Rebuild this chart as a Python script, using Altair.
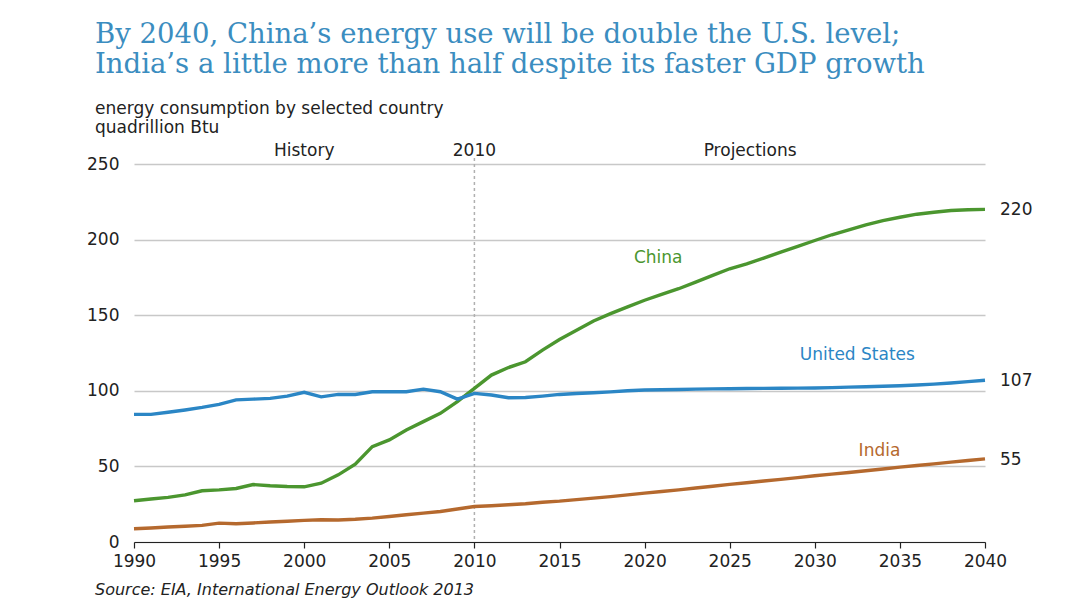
import altair as alt
import pandas as pd

years = list(range(1990, 2041))

china = [27.3, 28.4, 29.5, 31.2, 33.9, 34.5, 35.4, 38.0, 37.2, 36.7,
         36.5, 38.9, 44.4, 51.5, 63.1, 67.5, 74.1, 79.6, 85.1, 92.8,
         101.6, 110.4, 115.4, 119.2, 126.9, 133.9, 140.0, 146.2, 151.0, 155.5,
         159.9, 163.8, 167.5, 171.9, 176.3, 180.7, 184.0, 187.8, 191.7, 195.5,
         199.4, 203.2, 206.5, 209.8, 212.6, 214.8, 216.8, 218.1, 219.2, 219.7,
         220.0]

united_states = [84.4, 84.4, 85.8, 87.3, 89.0, 91.0, 94.0, 94.5, 95.0, 96.5,
                 99.0, 96.0, 97.6, 97.6, 99.4, 99.4, 99.4, 101.1, 99.4, 94.5,
                 98.3, 97.2, 95.4, 95.6, 96.5, 97.6, 98.2, 98.7, 99.3, 100.0,
                 100.5, 100.7, 100.9, 101.1, 101.3, 101.4, 101.5, 101.6, 101.7, 101.8,
                 101.9, 102.1, 102.4, 102.7, 103.0, 103.3, 103.8, 104.4, 105.2, 106.1,
                 107.0]

india = [8.8, 9.3, 9.9, 10.4, 11.0, 12.5, 12.1, 12.6, 13.2, 13.7,
         14.3, 14.7, 14.6, 15.0, 15.8, 16.9, 18.0, 19.1, 20.2, 21.8,
         23.5, 24.0, 24.6, 25.3, 26.3, 27.0, 28.0, 29.0, 30.0, 31.2,
         32.3, 33.4, 34.5, 35.7, 36.9, 38.1, 39.2, 40.3, 41.4, 42.6,
         43.8, 44.9, 46.0, 47.1, 48.3, 49.5, 50.6, 51.7, 52.8, 53.9,
         55.0]

series_names = ["China", "United States", "India"]
series_colors = ["#4b962f", "#2b86c5", "#b5692e"]

# series name labels (year, value)
name_label_x = [2020.8, 2032.5, 2033.8]
name_label_y = [187.8, 123.7, 60.2]

# end value labels
end_values = [220, 107, 55]

# header labels above the plot
header_text = ["History", "2010", "Projections"]
header_x = [2000, 2010, 2026.2]

title_lines = ["By 2040, China\u2019s energy use will be double the U.S. level;",
               "India\u2019s a little more than half despite its faster GDP growth"]
subtitle_lines = ["energy consumption by selected country", "quadrillion Btu"]
source_text = "Source:  EIA, International Energy Outlook 2013"

FONT = "DejaVu Sans"

rows = []
for name, vals in zip(series_names, [china, united_states, india]):
    for yr, v in zip(years, vals):
        rows.append({"year": yr, "value": v, "country": name})
df = pd.DataFrame(rows)

color_scale = alt.Scale(domain=series_names, range=series_colors)

x_scale = alt.Scale(domain=[1990, 2040], nice=False, zero=False)
y_scale = alt.Scale(domain=[0, 250], nice=False)

lines = alt.Chart(df).mark_line(strokeWidth=3.4).encode(
    x=alt.X("year:Q", scale=x_scale,
            axis=alt.Axis(values=list(range(1990, 2041, 5)), format="d", title=None,
                          grid=False, domainColor="#222", domainWidth=1.2,
                          tickColor="#222", tickSize=6, tickWidth=1.2,
                          labelFlush=False,
                          labelFont=FONT, labelFontSize=17, labelColor="#222",
                          labelPadding=5)),
    y=alt.Y("value:Q", scale=y_scale,
            axis=alt.Axis(values=[0, 50, 100, 150, 200, 250], title=None,
                          domain=False, ticks=False, gridColor="#c8c8c8", gridWidth=1.5,
                          labelFont=FONT, labelFontSize=17, labelColor="#222",
                          labelPadding=15)),
    color=alt.Color("country:N", scale=color_scale, legend=None),
)

rule_df = pd.DataFrame({"year": [2010]})
vrule = alt.Chart(rule_df).mark_rule(color="#b0b0b0", strokeDash=[3, 3], strokeWidth=1.5).encode(
    x=alt.X("year:Q", scale=x_scale),
    y=alt.value(-6),
    y2=alt.value(378),
)

name_df = pd.DataFrame({"year": name_label_x, "value": name_label_y, "country": series_names})
names = alt.Chart(name_df).mark_text(font=FONT, fontSize=17, align="center", baseline="middle").encode(
    x=alt.X("year:Q", scale=x_scale),
    y=alt.Y("value:Q", scale=y_scale),
    text="country:N",
    color=alt.Color("country:N", scale=color_scale, legend=None),
)

end_df = pd.DataFrame({"year": [2040] * 3, "value": end_values, "label": [str(v) for v in end_values]})
ends = alt.Chart(end_df).mark_text(font=FONT, fontSize=17, align="left", baseline="middle",
                                   dx=15, dy=1, color="#222").encode(
    x=alt.X("year:Q", scale=x_scale),
    y=alt.Y("value:Q", scale=y_scale),
    text="label:N",
)

head_df = pd.DataFrame({"year": header_x, "label": header_text})
heads = alt.Chart(head_df).mark_text(font=FONT, fontSize=17, align="center", baseline="middle",
                                     color="#222").encode(
    x=alt.X("year:Q", scale=x_scale),
    y=alt.value(-13),
    text="label:N",
)

title_df = pd.DataFrame({"label": title_lines, "ypos": [-121, -91]})
titles = alt.Chart(title_df).mark_text(font="DejaVu Serif", fontSize=27.5, align="left",
                                       baseline="alphabetic", color="#3b8dc0").encode(
    x=alt.value(-39),
    y=alt.Y("ypos:Q", scale=None),
    text="label:N",
)

sub_df = pd.DataFrame({"label": subtitle_lines, "ypos": [-50, -31]})
subs = alt.Chart(sub_df).mark_text(font=FONT, fontSize=17, align="left",
                                   baseline="alphabetic", color="#222").encode(
    x=alt.value(-39),
    y=alt.Y("ypos:Q", scale=None),
    text="label:N",
)

src_df = pd.DataFrame({"label": [source_text]})
src = alt.Chart(src_df).mark_text(font=FONT, fontSize=16, fontStyle="italic", align="left",
                                  baseline="alphabetic", color="#222").encode(
    x=alt.value(-39),
    y=alt.value(431),
    text="label:N",
)

chart = alt.layer(vrule, lines, names, ends, heads, titles, subs, src).properties(
    width=851,
    height=378,
    background="white",
    autosize=alt.AutoSizeParams(type="none"),
    padding={"left": 126, "top": 156, "right": 99, "bottom": 57},
).configure_view(strokeWidth=0, stroke="transparent")

chart.save("out.html", embed_options={"renderer": "svg", "actions": False})
